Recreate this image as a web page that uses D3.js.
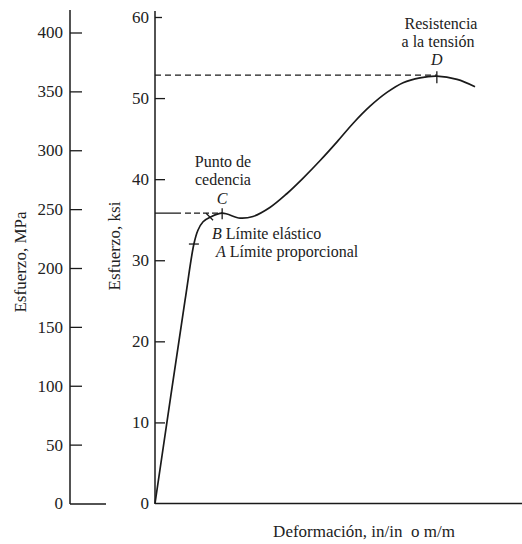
<!DOCTYPE html>
<html>
<head>
<meta charset="utf-8" />
<title>Esfuerzo-deformación</title>
<script src="https://cdn.jsdelivr.net/npm/d3@7"></script>
<style>
body{margin:0;background:#fff;}
</style>
</head>
<body>
<svg id="chart" width="522" height="544"></svg>
<script>
// curva esfuerzo-deformacion (deformacion en unidades relativas 0-100 del eje)
var strain    = [0, 8.2, 10.6, 11.7, 13.1, 15.0, 18.3, 23.2, 26.7, 31.3, 35.9, 40.3, 45.0, 49.6, 54.0, 58.6, 63.2, 67.6, 72.2, 76.8, 82.3, 87.2];
var stressKsi = [0, 25.1, 32.0, 33.7, 34.75, 35.3, 35.8, 35.2, 35.4, 36.5, 38.2, 40.1, 42.3, 44.6, 46.9, 49.0, 50.7, 51.9, 52.5, 52.7, 52.3, 51.4];
var ksiTicks = [0, 10, 20, 30, 40, 50, 60];
var mpaTicks = [0, 50, 100, 150, 200, 250, 300, 350, 400];
// puntos notables: A, B, C, D (indice en la curva)
var pointNames = ["A", "B", "C", "D"];
var pointIdx = [2, 5, 6, 19];

var FONT = "'Times New Roman', 'Liberation Serif', Tinos, 'DejaVu Serif', serif";
var FS = "17px";
var svg = d3.select("#chart");
var x = d3.scaleLinear().domain([0, 100]).range([155, 522]);
var y = d3.scaleLinear().domain([0, 60]).range([503.5, 17]);
var yMpa = d3.scaleLinear().domain([0, 400]).range([503.5, 32.5]);

var ink = "#1a1a1a";

// eje MPa
var gM = svg.append("g").attr("transform", "translate(70,0)")
  .call(d3.axisLeft(yMpa).tickValues(mpaTicks).tickSize(-12).tickPadding(7));
gM.select(".domain").remove();
gM.selectAll(".tick line").attr("stroke", ink).attr("stroke-width", 1.3)
  .attr("x2", function(d){ return d == 0 ? 36 : 12; });
gM.selectAll(".tick text").style("font-size", FS).style("font-family", FONT).attr("fill", "#222");
svg.append("line").attr("x1", 70).attr("x2", 70).attr("y1", 10).attr("y2", 504)
  .attr("stroke", ink).attr("stroke-width", 1.5);

// eje ksi
var gK = svg.append("g").attr("transform", "translate(155,0)")
  .call(d3.axisLeft(y).tickValues(ksiTicks).tickSize(-10).tickPadding(6));
gK.select(".domain").remove();
gK.selectAll(".tick line").attr("stroke", ink).attr("stroke-width", 1.3)
  .attr("x2", function(d){ return d == 0 ? 0 : (d == 60 ? 7 : 10); });
gK.selectAll(".tick text").style("font-size", FS).style("font-family", FONT).attr("fill", "#222");
svg.append("line").attr("x1", 155).attr("x2", 155).attr("y1", 11).attr("y2", 504)
  .attr("stroke", ink).attr("stroke-width", 1.5);
// eje deformacion
svg.append("line").attr("x1", 155).attr("x2", 522).attr("y1", 503.5).attr("y2", 503.5)
  .attr("stroke", ink).attr("stroke-width", 1.5);

// titulos de ejes
function txt(){
  return svg.append("text").style("font-family", FONT).attr("fill", "#222");
}
txt().attr("transform", "translate(26,262) rotate(-90)")
  .attr("text-anchor", "middle").style("font-size", FS).text("Esfuerzo, MPa");
txt().attr("transform", "translate(120,246) rotate(-90)")
  .attr("text-anchor", "middle").style("font-size", FS).text("Esfuerzo, ksi");
txt().attr("x", 364).attr("y", 537).attr("text-anchor", "middle").attr("xml:space", "preserve")
  .style("font-size", FS).style("white-space", "pre").text("Deformación, in/in  o m/m");

// lineas punteadas de C y D
var iC = pointIdx[2], iD = pointIdx[3];
svg.append("line").attr("x1", x(0)).attr("x2", x(strain[iC]))
  .attr("y1", y(stressKsi[iC])).attr("y2", y(stressKsi[iC]))
  .attr("stroke", ink).attr("stroke-width", 1.2).attr("stroke-dasharray", "26,4,6,3,6,3,6,3,6,3");
svg.append("line").attr("x1", x(0)).attr("x2", x(strain[iD]))
  .attr("y1", y(stressKsi[iD]) - 1).attr("y2", y(stressKsi[iD]) - 1)
  .attr("stroke", ink).attr("stroke-width", 1.2).attr("stroke-dasharray", "6,4");

// curva
var line = d3.line().x(function(d){ return x(d[0]); }).y(function(d){ return y(d[1]); })
  .curve(d3.curveCatmullRom.alpha(0.5));
svg.append("path").datum(d3.zip(strain, stressKsi)).attr("d", line)
  .attr("fill", "none").attr("stroke", ink).attr("stroke-width", 1.7);

// marcas de los puntos
var pA = [x(strain[pointIdx[0]]), y(stressKsi[pointIdx[0]])];
svg.append("line").attr("x1", pA[0] - 5).attr("x2", pA[0] + 5).attr("y1", pA[1]).attr("y2", pA[1])
  .attr("stroke", ink).attr("stroke-width", 1.3);
var pB = [x(strain[pointIdx[1]]), y(stressKsi[pointIdx[1]])];
svg.append("line").attr("x1", pB[0] - 4).attr("x2", pB[0] + 3).attr("y1", pB[1] - 4).attr("y2", pB[1] + 3)
  .attr("stroke", ink).attr("stroke-width", 1.2);
var pC = [x(strain[iC]), y(stressKsi[iC])];
svg.append("line").attr("x1", pC[0]).attr("x2", pC[0]).attr("y1", pC[1] - 5).attr("y2", pC[1] + 6)
  .attr("stroke", ink).attr("stroke-width", 1.3);
var pD = [x(strain[iD]), y(stressKsi[iD])];
svg.append("line").attr("x1", pD[0]).attr("x2", pD[0]).attr("y1", pD[1] - 5).attr("y2", pD[1] + 7)
  .attr("stroke", ink).attr("stroke-width", 1.3);

// anotaciones
function label(tx, ty, parts, anchor){
  var t = txt().attr("x", tx).attr("y", ty).style("font-size", "16px")
    .attr("text-anchor", anchor || "start");
  parts.forEach(function(p){
    t.append("tspan").style("font-style", p[1] ? "italic" : "normal").text(p[0]);
  });
}
label(223, 167, [["Punto de", false]], "middle");
label(223, 185, [["cedencia", false]], "middle");
label(pC[0], 204, [[pointNames[2], true]], "middle");
label(212, 239, [[pointNames[1], true], [" Límite elástico", false]]);
label(216, 257, [[pointNames[0], true], [" Límite proporcional", false]]);
label(441, 29, [["Resistencia", false]], "middle");
label(438, 47, [["a la tensión", false]], "middle");
label(pD[0], 65, [[pointNames[3], true]], "middle");
</script>
</body>
</html>
